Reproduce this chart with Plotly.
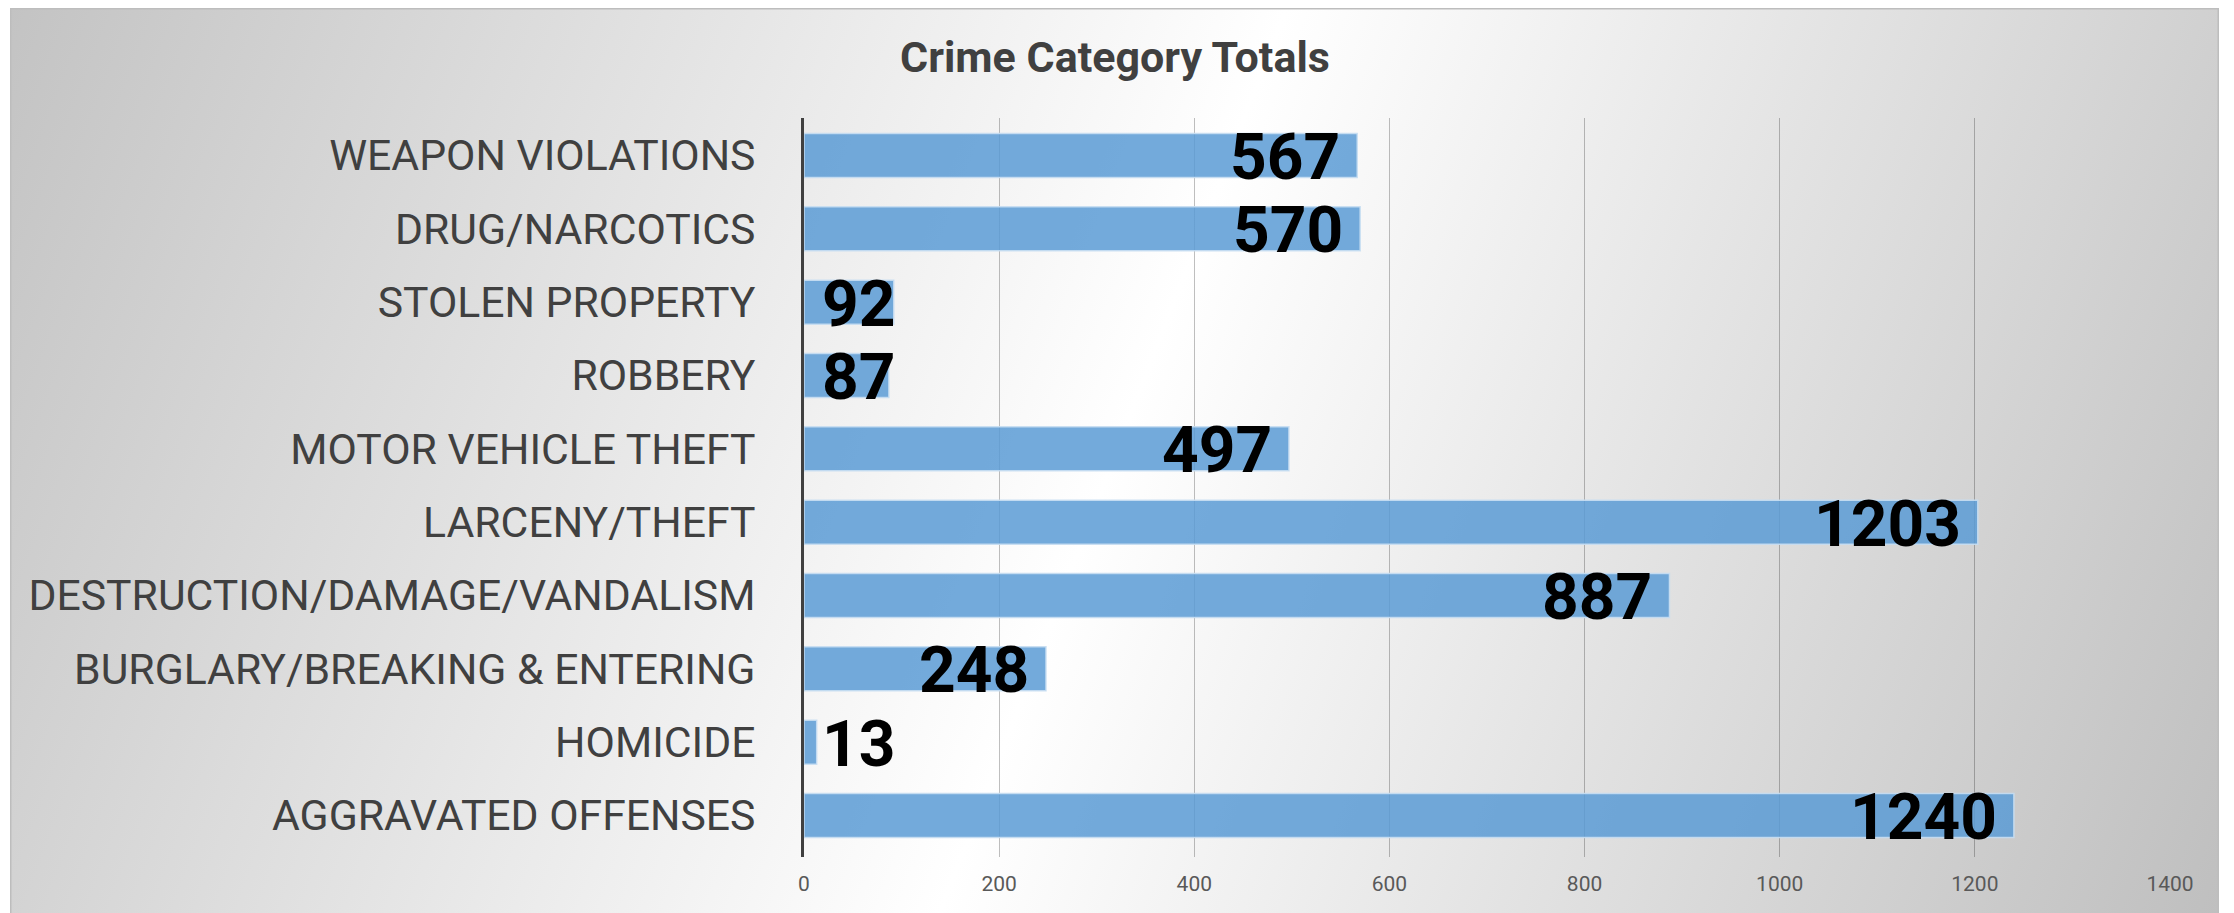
import base64
import plotly.graph_objects as go

# ---- data (bottom-to-top order, as the category axis draws it) ----
categories = [
    "AGGRAVATED OFFENSES",
    "HOMICIDE",
    "BURGLARY/BREAKING & ENTERING",
    "DESTRUCTION/DAMAGE/VANDALISM",
    "LARCENY/THEFT",
    "MOTOR VEHICLE THEFT",
    "ROBBERY",
    "STOLEN PROPERTY",
    "DRUG/NARCOTICS",
    "WEAPON VIOLATIONS",
]
totals = [1240, 13, 248, 887, 1203, 497, 87, 92, 570, 567]
x_ticks = [0, 200, 400, 600, 800, 1000, 1200, 1400]
title_text = "Crime Category Totals"

# ---- geometry / style (page body has an 8px margin) ----
OFF = 8
W, H = 2234 - OFF, 913 - OFF
M_L, M_R, M_T, M_B = 804 - OFF, 64, 118 - OFF, 56
PLOT_W = W - M_L - M_R
PLOT_H = H - M_T - M_B
X_MAX = x_ticks[-1]
FONT = "Roboto"
LABEL_FS = 64
LABEL_DIGIT_W = 36
LABEL_PAD = 17

# background: diagonal gray-white-gray gradient box with thin border
BX0, BY0, BX1, BY1 = 10 - OFF, 0, 2219 - OFF, H + 4
bw, bh = BX1 - BX0, BY1 - BY0
svg = f'''<svg xmlns="http://www.w3.org/2000/svg" width="{bw}" height="{bh}" viewBox="0 0 {bw} {bh}" preserveAspectRatio="none">
<defs><linearGradient id="g" gradientUnits="userSpaceOnUse" x1="0" y1="-4" x2="2229" y2="850">
<stop offset="0" stop-color="#c3c3c3"/><stop offset="0.5" stop-color="#ffffff"/><stop offset="1" stop-color="#bfbfbf"/>
</linearGradient></defs>
<rect x="0" y="0" width="{bw}" height="{bh}" fill="url(#g)" stroke="#bdbdbd" stroke-width="3"/>
</svg>'''
svg_uri = "data:image/svg+xml;base64," + base64.b64encode(svg.encode()).decode()

fig = go.Figure()
fig.add_trace(go.Bar(
    x=totals,
    y=categories,
    orientation="h",
    width=0.6,
    marker=dict(color="rgba(91,155,213,0.85)",
                line=dict(color="rgba(200,222,242,0.9)", width=1.5)),
    hoverinfo="skip",
))

# data labels: inside end if they fit, otherwise starting at the bar base
annotations = []
px_per_unit = PLOT_W / X_MAX
for cat, v in zip(categories, totals):
    lw = len(str(v)) * LABEL_DIGIT_W
    fits = v * px_per_unit - LABEL_PAD - lw >= 18
    annotations.append(dict(
        x=v if fits else 0, y=cat, xref="x", yref="y",
        text=str(v), showarrow=False,
        xanchor="right" if fits else "left",
        xshift=-LABEL_PAD + 2 if fits else 16,
        yshift=-2,
        yanchor="middle",
        font=dict(family=FONT, size=LABEL_FS, color="#000000", weight="bold"),
    ))

fig.update_layout(
    width=W, height=H,
    margin=dict(l=M_L, r=M_R, t=M_T, b=M_B, pad=0),
    paper_bgcolor="#ffffff",
    plot_bgcolor="rgba(0,0,0,0)",
    showlegend=False,
    title=dict(text=title_text, xref="container", yref="container",
               x=(1115 - OFF) / W, xanchor="center", y=1 - (57 - OFF) / H, yanchor="middle",
               font=dict(family=FONT, size=43, color="#404040", weight="bold")),
    images=[dict(source=svg_uri, xref="paper", yref="paper",
                 x=(BX0 - M_L) / PLOT_W, y=(H - M_B - BY0) / PLOT_H,
                 sizex=bw / PLOT_W, sizey=bh / PLOT_H,
                 xanchor="left", yanchor="top", sizing="stretch", layer="below")],
    annotations=annotations,
    xaxis=dict(range=[0, X_MAX], tickvals=x_ticks, showgrid=True,
               gridcolor="rgba(0,0,0,0.25)", gridwidth=1, zeroline=False,
               showline=False, ticks="outside", ticklen=8, tickcolor="rgba(0,0,0,0)",
               tickfont=dict(family=FONT, size=21, color="#595959"),
               automargin=False, fixedrange=True),
    yaxis=dict(type="category", showgrid=False, zeroline=False,
               showline=True, linecolor="#404040", linewidth=3,
               ticks="", ticklabelstandoff=37,
               tickfont=dict(family=FONT, size=42.7, color="#404040"),
               automargin=False, fixedrange=True),
)

fig.write_html("out.html")
